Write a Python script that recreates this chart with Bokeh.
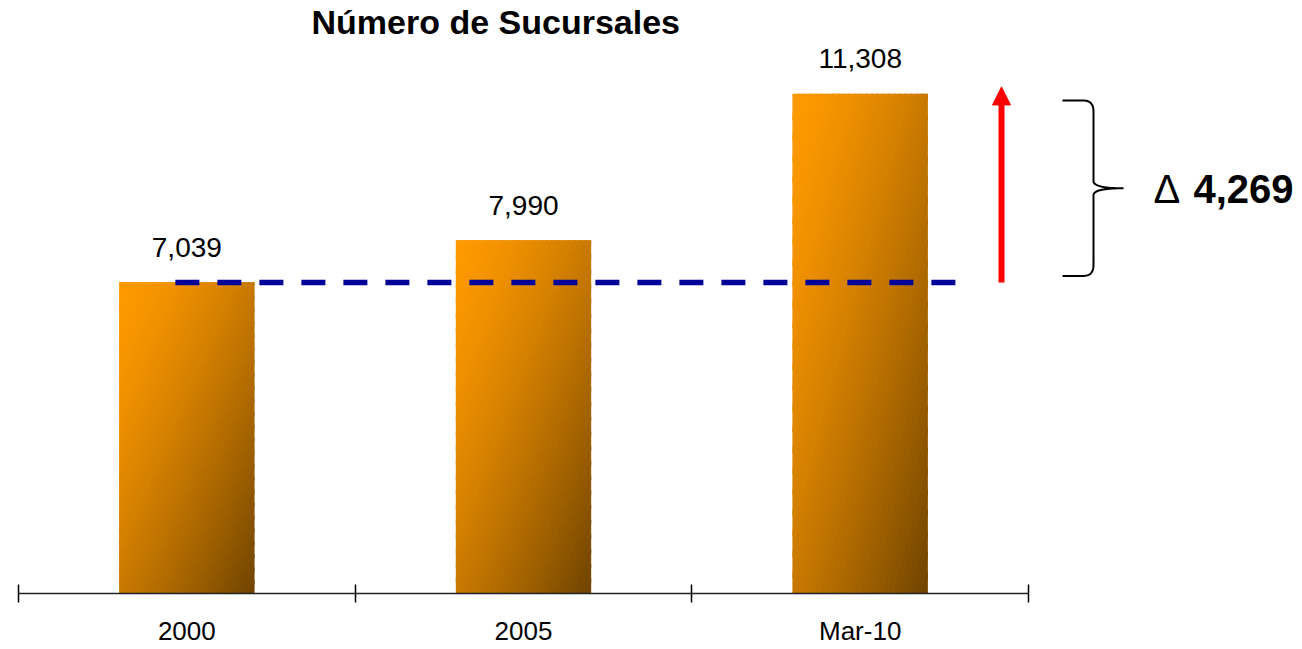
import numpy as np
from bokeh.plotting import figure
from bokeh.models import (ColumnDataSource, LinearAxis, FixedTicker, Range1d,
                          Arrow, NormalHead, Label)
from bokeh.embed import file_html
from bokeh.resources import INLINE
from bokeh.core.properties import value

# ---------------- data ----------------
categories = ["2000", "2005", "Mar-10"]
branches = [7039, 7990, 11308]
title_text = "Número de Sucursales"

# ---------------- layout / style ----------------
W, H = 1300, 648
FONT = "Liberation Sans"
PX_PER_UNIT_X = 1010 / 3.0
X_START = -18 / PX_PER_UNIT_X
X_END = X_START + W / PX_PER_UNIT_X
PX_PER_UNIT_Y = 0.04418
FRAME_H = 553
Y_END = FRAME_H / PX_PER_UNIT_Y
positions = [i + 0.5 for i in range(len(categories))]
bar_width = 0.4

p = figure(width=W, height=H, output_backend="svg", toolbar_location=None,
           x_range=Range1d(X_START, X_END), y_range=Range1d(0, Y_END),
           x_axis_type=None, y_axis_type=None, min_border=0)
p.outline_line_color = None
p.background_fill_color = "white"
p.border_fill_color = "white"

p.title.text = title_text
p.title.text_font = FONT
p.title.text_font_size = "34px"
p.title.text_font_style = "bold"
p.title.text_color = "black"
p.title.align = "left"
p.title.offset = 311
p.title.standoff = 0

# ---------------- bars (base + diagonal gradient) ----------------
bar_src = ColumnDataSource(dict(x=positions, top=branches, cat=categories))
p.vbar(x="x", top="top", bottom=0, width=bar_width, source=bar_src,
       fill_color="#C27500", line_color=None)

c0 = np.array([255, 154, 0], dtype=float)
c1 = np.array([112, 68, 0], dtype=float)


def clip_poly(poly, s, ge):
    out = []
    n = len(poly)
    sign = 1 if ge else -1
    for i in range(n):
        P = poly[i]
        Q = poly[(i + 1) % n]
        fp = (P[0] + P[1] - s) * sign
        fq = (Q[0] + Q[1] - s) * sign
        if fp >= 0:
            out.append(P)
        if (fp >= 0) != (fq >= 0):
            t = fp / (fp - fq)
            out.append((P[0] + t * (Q[0] - P[0]), P[1] + t * (Q[1] - P[1])))
    return out


N = 48
xs, ys, cols = [], [], []
for cx, val in zip(positions, branches):
    left = cx - bar_width / 2
    for k in range(N):
        s0 = 2.0 * k / N
        s1 = 2.0 * (k + 1) / N + 0.01
        sq = [(0, 0), (1, 0), (1, 1), (0, 1)]
        poly = clip_poly(clip_poly(sq, s0, True), s1, False)
        if len(poly) < 3:
            continue
        tm = ((k + 0.5) / N) ** 1.4
        c = c0 + (c1 - c0) * tm
        xs.append([left + u * bar_width for u, v in poly])
        ys.append([val * (1 - v) for u, v in poly])
        cols.append("#%02x%02x%02x" % tuple(int(round(a)) for a in c))
p.patches(xs=xs, ys=ys, fill_color=cols, line_color=cols, line_width=0.6)

# ---------------- value labels ----------------
lab_src = ColumnDataSource(dict(x=positions, y=branches,
                                text=[f"{v:,}" for v in branches]))
p.text(x="x", y="y", text="text", source=lab_src,
       text_font=value(FONT), text_font_size="28px", text_color="black",
       text_align="center", text_baseline="alphabetic", y_offset=-35)

# ---------------- dashed reference line ----------------
p.line(x=[0.466, 2.795], y=[branches[0], branches[0]], line_color="#000099",
       line_width=5.5, line_dash="24 18")

# ---------------- red arrow ----------------
upx = 1.0 / PX_PER_UNIT_X
upy = 1.0 / PX_PER_UNIT_Y
xa = (1001 - 18) * upx
p.add_layout(Arrow(end=NormalHead(size=18, fill_color="red", line_color="red"),
                   x_start=xa, y_start=branches[0], x_end=xa,
                   y_end=branches[2] + 7 * upy, line_color="red", line_width=6))

# ---------------- brace ----------------
inset = 150
top = branches[2] - inset
bot = branches[0] + inset
mid = (top + bot) / 2
x0 = (1062 - 18) * upx
x1 = (1093 - 18) * upx
x2 = (1123 - 18) * upx
rx = 10 * upx
ry = 11 * upy
rym = 7 * upy


def quad(P0, C, P1, n=20):
    t = np.linspace(0, 1, n)[:, None]
    P0, C, P1 = map(np.array, (P0, C, P1))
    pts = (1 - t) ** 2 * P0 + 2 * (1 - t) * t * C + t ** 2 * P1
    return pts


parts = [
    np.array([[x0, top]]),
    quad((x1 - rx, top), (x1, top), (x1, top - ry)),
    quad((x1, mid + rym), (x1, mid), (x2, mid)),
    quad((x2, mid), (x1, mid), (x1, mid - rym)),
    quad((x1, bot + ry), (x1, bot), (x1 - rx, bot)),
    np.array([[x0, bot]]),
]
path = np.vstack(parts)
p.line(x=path[:, 0], y=path[:, 1], line_color="black", line_width=2)

# ---------------- delta label ----------------
delta = branches[2] - branches[0]
p.add_layout(Label(x=(1153 - 18) * upx, y=mid - 0.5 * upy, text="\u0394",
                   text_font=FONT, text_font_size="40px", text_color="black",
                   text_baseline="alphabetic"))
p.add_layout(Label(x=(1193 - 18) * upx, y=mid - 0.5 * upy, text=f"{delta:,}",
                   text_font=FONT, text_font_size="40px", text_font_style="bold",
                   text_color="black", text_baseline="alphabetic"))

# ---------------- category axis ----------------
ax = LinearAxis(bounds=(0, len(categories)),
                ticker=FixedTicker(ticks=positions,
                                   minor_ticks=list(range(len(categories) + 1))))
ax.major_label_overrides = {pos: c for pos, c in zip(positions, categories)}
ax.major_tick_in = 0
ax.major_tick_out = 0
ax.minor_tick_in = 9
ax.minor_tick_out = 9
ax.minor_tick_line_color = "black"
ax.minor_tick_line_width = 1.5
ax.axis_line_color = "#222222"
ax.axis_line_width = 1.5
ax.major_label_text_font = FONT
ax.major_label_text_font_size = "26px"
ax.major_label_text_color = "black"
ax.major_label_standoff = 13
p.add_layout(ax, "below")

open("out.html", "w").write(file_html(p, INLINE))
